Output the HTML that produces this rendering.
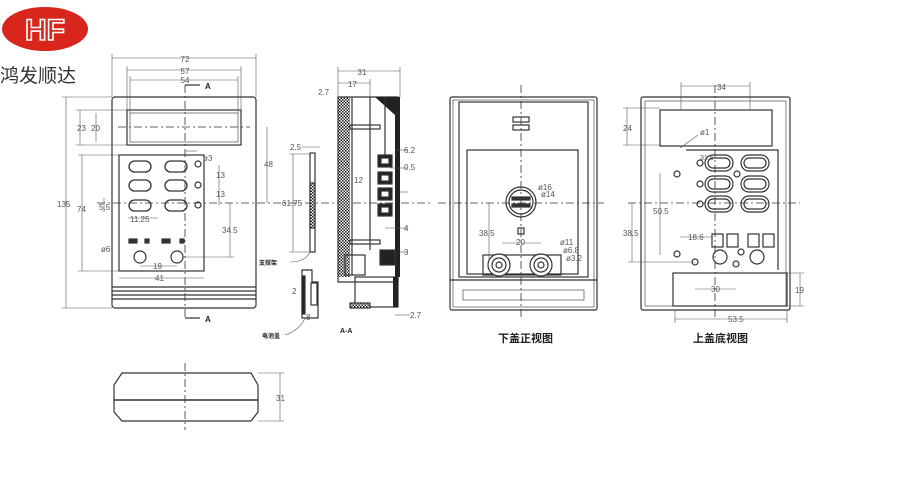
<!DOCTYPE html>
<html><head><meta charset="utf-8"><style>
html,body{margin:0;padding:0;background:#fff;width:900px;height:500px;overflow:hidden}
svg{display:block}
text{font-family:"Liberation Sans","Noto Sans CJK SC",sans-serif;fill:#555}
</style></head><body>
<svg width="900" height="500" viewBox="0 0 900 500" xmlns="http://www.w3.org/2000/svg">
<defs>
<pattern id="h" width="3" height="3" patternUnits="userSpaceOnUse"><rect width="3" height="3" fill="#fff"/><rect width="1.5" height="1.5" fill="#222"/><rect x="1.5" y="1.5" width="1.5" height="1.5" fill="#222"/></pattern>
</defs>
<!-- logo -->
<ellipse cx="45" cy="29" rx="43" ry="22" fill="#d9261c"/>
<text x="45" y="40" font-size="30" font-weight="bold" text-anchor="middle" style="fill:#d9261c;stroke:#fff;stroke-width:1.6">HF</text>
<text x="0" y="82" font-size="19" style="fill:#333">鸿发顺达</text>

<g fill="none" stroke="#333" stroke-width="1.2">
<!-- FRONT VIEW -->
<rect x="112" y="97" width="144" height="211" rx="3"/>
<rect x="127" y="110" width="114" height="35"/>
<rect x="130" y="113" width="108" height="29" stroke-width="0.6"/>
<rect x="119" y="155" width="85" height="116"/>
<g stroke-width="1.3">
<rect x="129" y="161" width="22" height="11" rx="5.5"/><rect x="165" y="161" width="22" height="11" rx="5.5"/>
<rect x="129" y="180" width="22" height="11" rx="5.5"/><rect x="165" y="180" width="22" height="11" rx="5.5"/>
<rect x="129" y="200" width="22" height="11" rx="5.5"/><rect x="165" y="200" width="22" height="11" rx="5.5"/>
</g>
<circle cx="198" cy="164" r="3"/><circle cx="198" cy="185" r="3"/><circle cx="198" cy="205" r="3"/>
<rect x="129" y="239" width="8" height="4" fill="#333"/><rect x="145" y="239" width="4" height="4" fill="#333"/><rect x="162" y="239" width="8" height="4" fill="#333"/><rect x="180" y="239" width="4" height="4" fill="#333"/>
<circle cx="140" cy="257" r="6"/><circle cx="177" cy="257" r="6"/>
<line x1="112" y1="287" x2="256" y2="287"/><line x1="112" y1="291" x2="256" y2="291"/><line x1="112" y1="295" x2="256" y2="295"/><line x1="112" y1="299" x2="256" y2="299"/>
<line x1="185" y1="85" x2="185" y2="320" stroke-dasharray="8,3,2,3" stroke-width="0.8"/>
<line x1="118" y1="127" x2="250" y2="127" stroke-dasharray="8,3,2,3" stroke-width="0.8"/>
<line x1="97" y1="203" x2="430" y2="203" stroke-dasharray="8,3,2,3" stroke-width="0.8"/>
<polyline points="185,85 200,85" /><polyline points="185,318 200,318"/>
<g stroke-width="0.6" stroke="#555">
<line x1="112" y1="58" x2="256" y2="58"/><line x1="112" y1="54" x2="112" y2="97"/><line x1="256" y1="54" x2="256" y2="97"/>
<line x1="127" y1="70" x2="241" y2="70"/><line x1="127" y1="66" x2="127" y2="110"/><line x1="241" y1="66" x2="241" y2="110"/>
<line x1="130" y1="80" x2="238" y2="80"/><line x1="130" y1="76" x2="130" y2="113"/><line x1="238" y1="76" x2="238" y2="113"/>
<line x1="66" y1="97" x2="66" y2="308"/><line x1="62" y1="97" x2="112" y2="97"/><line x1="62" y1="308" x2="112" y2="308"/>
<line x1="80" y1="110" x2="80" y2="145"/><line x1="76" y1="110" x2="127" y2="110"/><line x1="76" y1="145" x2="127" y2="145"/>
<line x1="96" y1="113" x2="96" y2="142"/>
<line x1="82" y1="155" x2="82" y2="271"/><line x1="78" y1="155" x2="119" y2="155"/><line x1="78" y1="271" x2="119" y2="271"/>
<line x1="267" y1="127" x2="267" y2="203"/>
<line x1="219" y1="165" x2="219" y2="205"/>
<line x1="230" y1="203" x2="230" y2="257"/><line x1="183" y1="257" x2="234" y2="257"/>
<line x1="119" y1="278" x2="204" y2="278"/>
<line x1="140" y1="266" x2="177" y2="266"/>
<line x1="128" y1="218" x2="158" y2="218"/>
<line x1="104" y1="198" x2="104" y2="212"/>
<line x1="185" y1="151" x2="197" y2="151"/>
</g>

<!-- SECTION A-A -->
<rect x="338" y="97" width="12" height="180" fill="url(#h)" stroke="none"/>
<path d="M338 97 H398 V282 H338 Z"/>
<rect x="395" y="97" width="5" height="180" fill="#222" stroke="none"/>
<path d="M375 97 H400 V110 L395 115" fill="#222" stroke="none"/>
<line x1="352" y1="97" x2="352" y2="275"/><line x1="370" y1="97" x2="370" y2="250"/><line x1="385" y1="97" x2="385" y2="160"/>
<rect x="378" y="155" width="14" height="12" fill="#222"/><rect x="378" y="172" width="14" height="12" fill="#222"/><rect x="378" y="188" width="14" height="12" fill="#222"/><rect x="378" y="204" width="14" height="12" fill="#222"/>
<rect x="381" y="158" width="8" height="6" fill="#fff"/><rect x="381" y="175" width="8" height="6" fill="#fff"/><rect x="381" y="191" width="8" height="6" fill="#fff"/><rect x="381" y="207" width="8" height="6" fill="#fff"/>
<rect x="350" y="125" width="30" height="4"/><rect x="350" y="240" width="30" height="4"/>
<rect x="345" y="255" width="20" height="20"/><rect x="380" y="250" width="15" height="15" fill="#222"/>
<rect x="355" y="277" width="43" height="30" fill="none"/><rect x="393" y="277" width="5" height="30" fill="#222" stroke="none"/>
<rect x="350" y="303" width="20" height="5" fill="url(#h)"/>
<rect x="310" y="153" width="5" height="99"/><rect x="310" y="183" width="5" height="45" fill="url(#h)"/>
<path d="M302 270 V318 H318 V282 H312 V270 Z"/><rect x="302" y="276" width="3" height="38" fill="#222"/><rect x="311" y="283" width="6" height="22"/>
<g stroke-width="0.6" stroke="#555">
<line x1="338" y1="71" x2="400" y2="71"/><line x1="338" y1="67" x2="338" y2="97"/><line x1="400" y1="67" x2="400" y2="97"/>
<line x1="338" y1="83" x2="370" y2="83"/><line x1="370" y1="79" x2="370" y2="97"/>
<line x1="293" y1="154" x2="293" y2="252"/><line x1="289" y1="154" x2="310" y2="154"/><line x1="289" y1="252" x2="310" y2="252"/>
<line x1="302" y1="147" x2="320" y2="147"/>
<path d="M290 262 Q305 262 310 252"/><path d="M285 335 Q300 330 305 318"/>
<line x1="400" y1="192" x2="408" y2="192"/><line x1="395" y1="150" x2="408" y2="150"/><line x1="390" y1="168" x2="408" y2="168"/><line x1="385" y1="228" x2="408" y2="228"/><line x1="400" y1="252" x2="408" y2="252"/><line x1="395" y1="315" x2="410" y2="315"/>
</g>

<!-- LOWER COVER -->
<rect x="450" y="97" width="147" height="213" rx="2"/>
<rect x="453" y="100" width="141" height="207" stroke-width="0.6"/>
<rect x="459" y="102" width="129" height="175"/>
<rect x="467" y="150" width="111" height="124"/>
<line x1="450" y1="280" x2="597" y2="280"/>
<rect x="463" y="290" width="121" height="10" stroke-width="0.6"/>
<rect x="513" y="117" width="16" height="5"/><rect x="513" y="125" width="16" height="5"/>
<circle cx="521" cy="202" r="15"/><circle cx="521" cy="202" r="12"/>
<rect x="512" y="197" width="18" height="3" fill="#333"/><rect x="512" y="204" width="18" height="3" fill="#333"/>
<rect x="518" y="228" width="6" height="6"/>
<rect x="483" y="255" width="78" height="20" fill="none"/>
<circle cx="499" cy="265" r="11" fill="#fff"/><circle cx="499" cy="265" r="7"/><circle cx="499" cy="265" r="3"/>
<circle cx="541" cy="265" r="11" fill="#fff"/><circle cx="541" cy="265" r="7"/><circle cx="541" cy="265" r="3"/>
<line x1="521" y1="85" x2="521" y2="320" stroke-dasharray="8,3,2,3" stroke-width="0.8"/>
<line x1="438" y1="203" x2="604" y2="203" stroke-dasharray="8,3,2,3" stroke-width="0.8"/>
<g stroke-width="0.6" stroke="#555">
<line x1="489" y1="203" x2="489" y2="262"/><line x1="502" y1="243" x2="541" y2="243"/>
</g>

<!-- UPPER COVER -->
<rect x="641" y="97" width="149" height="213" rx="2"/>
<rect x="645" y="101" width="141" height="205" stroke-width="0.6"/>
<rect x="660" y="110" width="112" height="36"/>
<path d="M686 150 H778 V270"/>
<g stroke-width="1.2">
<rect x="705" y="155" width="28" height="16" rx="8"/><rect x="708" y="158" width="22" height="10" rx="5"/>
<rect x="741" y="155" width="28" height="16" rx="8"/><rect x="744" y="158" width="22" height="10" rx="5"/>
<rect x="705" y="176" width="28" height="16" rx="8"/><rect x="708" y="179" width="22" height="10" rx="5"/>
<rect x="741" y="176" width="28" height="16" rx="8"/><rect x="744" y="179" width="22" height="10" rx="5"/>
<rect x="705" y="196" width="28" height="16" rx="8"/><rect x="708" y="199" width="22" height="10" rx="5"/>
<rect x="741" y="196" width="28" height="16" rx="8"/><rect x="744" y="199" width="22" height="10" rx="5"/>
</g>
<circle cx="700" cy="163" r="3"/><circle cx="700" cy="184" r="3"/><circle cx="700" cy="204" r="3"/><circle cx="737" cy="174" r="3"/>
<circle cx="677" cy="174" r="3"/><circle cx="677" cy="254" r="3"/><circle cx="695" cy="262" r="3"/><circle cx="736" cy="264" r="3"/><circle cx="741" cy="252" r="3"/>
<rect x="712" y="234" width="11" height="13"/><rect x="727" y="234" width="11" height="13"/><rect x="748" y="234" width="11" height="13"/><rect x="763" y="234" width="11" height="13"/>
<circle cx="720" cy="257" r="7"/><circle cx="757" cy="257" r="7"/>
<rect x="673" y="273" width="114" height="33"/>
<line x1="715" y1="85" x2="715" y2="320" stroke-dasharray="8,3,2,3" stroke-width="0.8"/>
<line x1="628" y1="203" x2="800" y2="203" stroke-dasharray="8,3,2,3" stroke-width="0.8"/>
<g stroke-width="0.6" stroke="#555">
<line x1="681" y1="86" x2="750" y2="86"/><line x1="681" y1="82" x2="681" y2="110"/><line x1="750" y1="82" x2="750" y2="110"/>
<line x1="627" y1="108" x2="627" y2="145"/><line x1="623" y1="108" x2="660" y2="108"/><line x1="623" y1="145" x2="660" y2="145"/>
<line x1="660" y1="173" x2="660" y2="255"/>
<line x1="632" y1="203" x2="632" y2="262"/><line x1="628" y1="262" x2="695" y2="262"/>
<line x1="800" y1="273" x2="800" y2="306"/><line x1="787" y1="273" x2="804" y2="273"/><line x1="787" y1="306" x2="804" y2="306"/>
<line x1="675" y1="319" x2="787" y2="319"/><line x1="675" y1="310" x2="675" y2="323"/><line x1="787" y1="310" x2="787" y2="323"/>
<line x1="695" y1="289" x2="736" y2="289"/>
<line x1="680" y1="237" x2="712" y2="237"/>
<line x1="680" y1="148" x2="698" y2="135"/>
</g>

<!-- BOTTOM VIEW -->
<path d="M122 373 H251 L258 385 V412 L251 421 H122 L114 412 V385 Z"/>
<line x1="114" y1="400" x2="258" y2="400" stroke-width="1.5"/>
<line x1="185" y1="363" x2="185" y2="430" stroke-dasharray="8,3,2,3" stroke-width="0.8"/>
<g stroke-width="0.6" stroke="#555"><line x1="280" y1="373" x2="280" y2="421"/><line x1="258" y1="373" x2="284" y2="373"/><line x1="258" y1="421" x2="284" y2="421"/></g>
</g>

<g font-size="8">
<text x="185" y="62" text-anchor="middle">72</text>
<text x="185" y="74" text-anchor="middle">57</text>
<text x="185" y="83" text-anchor="middle">54</text>
<text x="205" y="89" font-weight="bold" style="fill:#222">A</text>
<text x="205" y="322" font-weight="bold" style="fill:#222">A</text>
<text x="57" y="207">135</text>
<text x="77" y="131">23</text><text x="91" y="131">20</text>
<text x="77" y="212">74</text>
<text x="99" y="210">5.5</text>
<text x="130" y="222">11.25</text>
<text x="264" y="167">48</text>
<text x="216" y="178">13</text><text x="216" y="197">13</text>
<text x="222" y="233">34.5</text>
<text x="203" y="161">ø3</text>
<text x="101" y="252">ø6</text>
<text x="153" y="269">19</text>
<text x="155" y="281">41</text>
<text x="362" y="75" text-anchor="middle">31</text>
<text x="348" y="87">17</text>
<text x="318" y="95">2.7</text>
<text x="290" y="150">2.5</text>
<text x="282" y="206">61.75</text>
<text x="354" y="183">12</text>
<text x="404" y="153">6.2</text>
<text x="404" y="170">0.5</text>
<text x="404" y="231">4</text>
<text x="404" y="255">3</text>
<text x="410" y="318">2.7</text>
<text x="292" y="294">2</text>
<text x="306" y="320">8</text>
<text x="259" y="265" font-size="6" font-weight="bold" style="fill:#222">支撑架</text>
<text x="262" y="338" font-size="6" font-weight="bold" style="fill:#222">电池盖</text>
<text x="340" y="333" font-size="7" font-weight="bold" style="fill:#222">A-A</text>
<text x="538" y="190">ø16</text><text x="541" y="197">ø14</text>
<text x="479" y="236">38.5</text>
<text x="516" y="245">20</text>
<text x="560" y="245">ø11</text><text x="563" y="253">ø6.8</text><text x="566" y="261">ø3.2</text>
<text x="717" y="90">34</text>
<text x="623" y="131">24</text>
<text x="700" y="135">ø1</text>
<text x="700" y="160" font-size="7">31.5</text>
<text x="653" y="214">50.5</text>
<text x="623" y="236">38.5</text>
<text x="688" y="240">18.6</text>
<text x="711" y="292">30</text>
<text x="795" y="293">19</text>
<text x="728" y="322">53.5</text>
<text x="276" y="401">31</text>
</g>
<text x="498" y="342" font-size="11" font-weight="bold" style="fill:#222">下盖正视图</text>
<text x="693" y="342" font-size="11" font-weight="bold" style="fill:#222">上盖底视图</text>
</svg>
</body></html>
